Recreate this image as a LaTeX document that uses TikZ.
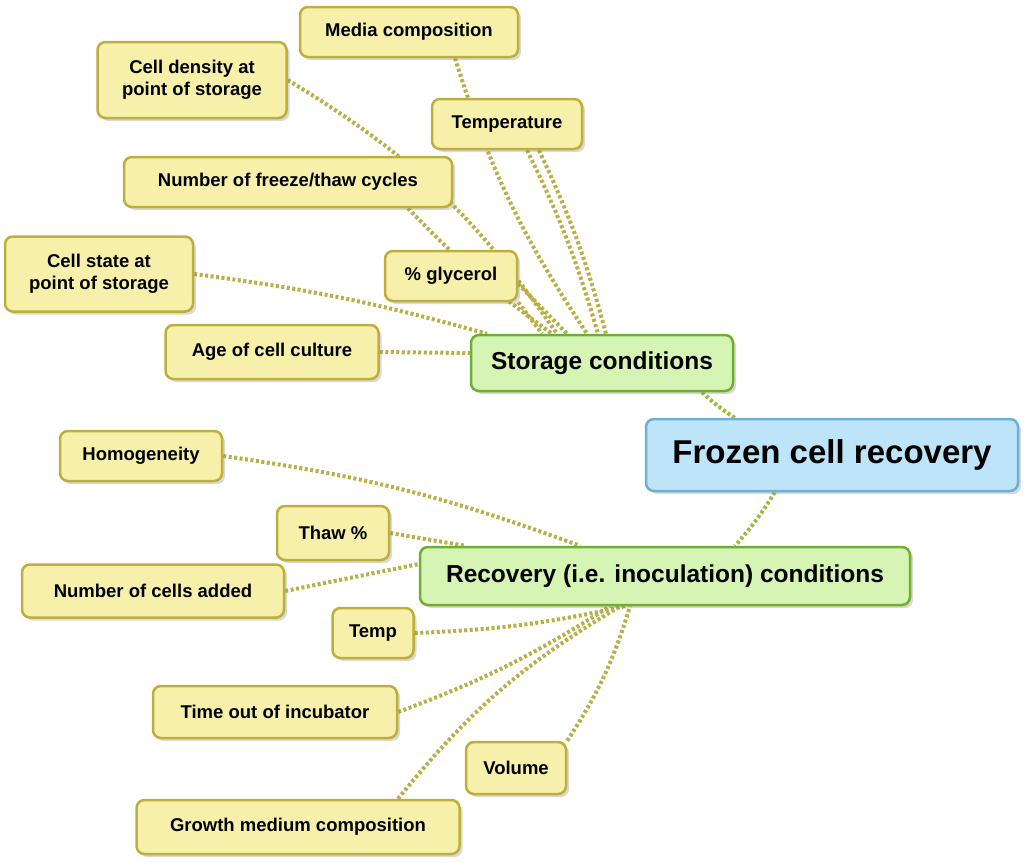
\documentclass[tikz,border=0pt]{standalone}
\usepackage{fontspec}
\setmainfont{Liberation Sans}
\usetikzlibrary{backgrounds,shadows}
\definecolor{leafbg}{RGB}{246,240,170}
\definecolor{leafbd}{RGB}{190,175,60}
\definecolor{midbg}{RGB}{214,244,180}
\definecolor{midbd}{RGB}{110,175,50}
\definecolor{rootbg}{RGB}{190,228,250}
\definecolor{rootbd}{RGB}{110,175,210}
\definecolor{linkc}{RGB}{185,175,70}
\definecolor{link2}{RGB}{150,190,60}
\tikzset{
 x=1pt,y=-1pt,
 box/.style={rounded corners=8pt,line width=2.5pt,align=center,font=\bfseries,inner sep=0pt,drop shadow={shadow xshift=3pt,shadow yshift=-3pt,opacity=0.3}},
 leaf/.style={box,draw=leafbd,fill=leafbg,font=\bfseries\fontsize{18.5}{22}\selectfont,minimum height=50pt},
 mid/.style={box,draw=midbd,fill=midbg,font=\bfseries\fontsize{24.5}{28}\selectfont,minimum height=56pt},
 root/.style={box,draw=rootbd,fill=rootbg,font=\bfseries\fontsize{33}{36}\selectfont,minimum height=72pt},
 link/.style={draw=linkc,line width=4pt,dash pattern=on 3pt off 2.5pt},
 rlink/.style={draw=link2,line width=4pt,dash pattern=on 3pt off 2.5pt},
}
\begin{document}
\begin{tikzpicture}
\useasboundingbox (0,0) rectangle (1024,862);
\node[leaf,minimum width=218pt] (media) at (409,32) {Media composition};
\node[leaf,minimum width=189pt,minimum height=76pt] (dens) at (192,80) {Cell density at\\point of storage};
\node[leaf,minimum width=150pt] (temp) at (507,124) {Temperature};
\node[leaf,minimum width=328pt] (freeze) at (288,182) {Number of freeze/thaw cycles};
\node[leaf,minimum width=188pt,minimum height=75pt] (state) at (99,274) {Cell state at\\point of storage};
\node[leaf,minimum width=132pt] (gly) at (451,276) {\% glycerol};
\node[leaf,minimum width=213pt,minimum height=54pt] (age) at (272,352) {Age of cell culture};
\node[mid,minimum width=262pt] (stor) at (602,363) {Storage conditions};
\node[root,minimum width=372pt] (root) at (832,455) {Frozen cell recovery};
\node[leaf,minimum width=162pt] (homo) at (141,456) {Homogeneity};
\node[leaf,minimum width=112pt,minimum height=54pt] (thaw) at (333,533) {Thaw \%};
\node[mid,minimum width=490pt,minimum height=58pt] (rec) at (665,576) {Recovery (i.e. inoculation) conditions};
\node[leaf,minimum width=262pt,minimum height=53pt] (ncell) at (153,591) {Number of cells added};
\node[leaf,minimum width=81pt] (tmp) at (373,633) {Temp};
\node[leaf,minimum width=244pt,minimum height=52pt] (time) at (275,712) {Time out of incubator};
\node[leaf,minimum width=100pt,minimum height=52pt] (vol) at (516,768) {Volume};
\node[leaf,minimum width=323pt,minimum height=54pt] (grow) at (298,827) {Growth medium composition};
\begin{scope}[on background layer]
\draw[rlink] (root.north west)++(90,0) to[bend left=5] ([xshift=100pt]stor.south);
\draw[rlink] (root.south west)++(130,0) to[bend left=5] ([xshift=70pt]rec.north);
\draw[link] ([xshift=46pt]media.south) to[bend right=8] ([xshift=-15pt]stor.north);
\draw[link] ([xshift=20pt]temp.south) to[bend left=5] ([xshift=-4pt]stor.north);
\draw[link] ([xshift=32pt]temp.south) to[bend left=5] ([xshift=4pt]stor.north);
\draw[link] (dens.east) to[bend left=12] ([xshift=-45pt]stor.north);
\draw[link] ([xshift=120pt]freeze.south) to[bend right=5] ([xshift=-50pt]stor.north);
\draw[link] (state.east) to[bend left=4] ([xshift=-115pt]stor.north);
\draw[link] (gly.south east) to ([xshift=-60pt]stor.north);
\draw[link] ([yshift=-8pt]gly.east) to ([xshift=-35pt]stor.north);
\draw[link] (age.east) to ([yshift=10pt]stor.west);
\draw[link] (homo.east) to[bend left=6] ([xshift=-85pt]rec.north);
\draw[link] (thaw.east) to ([xshift=-200pt]rec.north);
\draw[link] (ncell.east) to ([yshift=12pt]rec.west);
\draw[link] (tmp.east) to[bend right=5] ([xshift=-40pt]rec.south);
\draw[link] (time.east) to[bend right=6] ([xshift=-55pt]rec.south);
\draw[link] (vol.north east) to[bend right=8] ([xshift=-35pt]rec.south);
\draw[link] ([xshift=100pt]grow.north) to[bend left=10] ([xshift=-45pt]rec.south);
\end{scope}
\end{tikzpicture}
\end{document}
